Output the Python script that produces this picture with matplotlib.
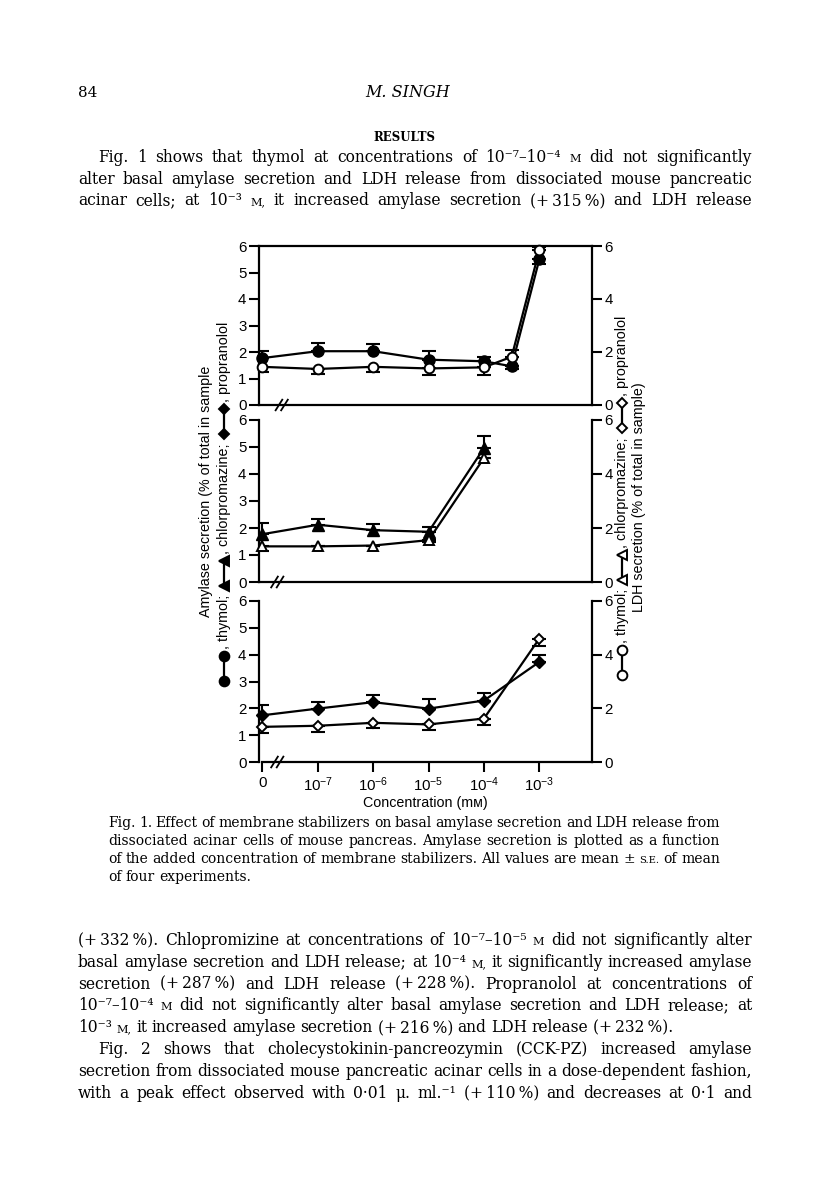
import matplotlib
matplotlib.use("Agg")
import matplotlib.pyplot as plt
from matplotlib.lines import Line2D

W, H = 816, 1185

# ==============================
# Data
# ==============================
conc_pos = [0, 1, 2, 3, 4, 5]
conc_labels = ["0", r"$10^{-7}$", r"$10^{-6}$", r"$10^{-5}$", r"$10^{-4}$", r"$10^{-3}$"]

# thymol (top panel) - one extra point between 10^-4 and 10^-3
thy_x = [0, 1, 2, 3, 4, 4.5, 5]
thy_amy = [1.77, 2.03, 2.03, 1.71, 1.65, 1.46, 5.50]
thy_amy_lo = [0, 0, 0, 0, 0, 0.12, 0.17]
thy_amy_hi = [0.26, 0.30, 0.28, 0.32, 0.18, 0, 0]
thy_ldh = [1.44, 1.36, 1.44, 1.38, 1.42, 1.82, 5.85]
thy_ldh_lo = [0.18, 0.18, 0.20, 0.26, 0.28, 0, 0]
thy_ldh_hi = [0, 0, 0, 0, 0, 0.25, 0.10]

# chlorpromazine (middle panel)
chl_x = [0, 1, 2, 3, 4]
chl_amy = [1.77, 2.12, 1.92, 1.86, 4.96]
chl_amy_lo = [0, 0, 0, 0, 0]
chl_amy_hi = [0.41, 0.23, 0.22, 0.16, 0.46]
chl_ldh = [1.32, 1.32, 1.35, 1.55, 4.59]
chl_ldh_lo = [0.18, 0, 0, 0.08, 0]
chl_ldh_hi = [0, 0, 0, 0, 0]

# propranolol (bottom panel)
pro_x = [0, 1, 2, 3, 4, 5]
pro_amy = [1.74, 1.99, 2.23, 1.99, 2.29, 3.73]
pro_amy_lo = [0, 0, 0, 0, 0, 0]
pro_amy_hi = [0.39, 0.26, 0.25, 0.36, 0.30, 0.24]
pro_ldh = [1.31, 1.35, 1.46, 1.40, 1.62, 4.60]
pro_ldh_lo = [0.24, 0.25, 0.21, 0.19, 0.25, 0.29]
pro_ldh_hi = [0, 0, 0, 0, 0, 0]

left_ticks = [0, 1, 2, 3, 4, 5, 6]
right_ticks = [0, 2, 4, 6]

# page text
para1 = [
    ("Fig. 1 shows that thymol at concentrations of 10⁻⁷–10⁻⁴ M did not significantly", 98, True),
    ("alter basal amylase secretion and LDH release from dissociated mouse pancreatic", 78, True),
    ("acinar cells; at 10⁻³ M, it increased amylase secretion (+\u2009315\u2009%) and LDH release", 78, True),
]
caption = [
    ("Fig. 1. Effect of membrane stabilizers on basal amylase secretion and LDH release from", 108, True),
    ("dissociated acinar cells of mouse pancreas. Amylase secretion is plotted as a function", 108, True),
    ("of the added concentration of membrane stabilizers. All values are mean ± S.E. of mean", 108, True),
    ("of four experiments.", 108, False),
]
para2 = [
    ("(+\u2009332\u2009%). Chlopromizine at concentrations of 10⁻⁷–10⁻⁵ M did not significantly alter", 78, True),
    ("basal amylase secretion and LDH release; at 10⁻⁴ M, it significantly increased amylase", 78, True),
    ("secretion (+\u2009287\u2009%) and LDH release (+\u2009228\u2009%). Propranolol at concentrations of", 78, True),
    ("10⁻⁷–10⁻⁴ M did not significantly alter basal amylase secretion and LDH release; at", 78, True),
    ("10⁻³ M, it increased amylase secretion (+\u2009216\u2009%) and LDH release (+\u2009232\u2009%).", 78, False),
    ("Fig. 2 shows that cholecystokinin-pancreozymin (CCK-PZ) increased amylase", 98, True),
    ("secretion from dissociated mouse pancreatic acinar cells in a dose-dependent fashion,", 78, True),
    ("with a peak effect observed with 0·01 μ. ml.⁻¹ (+\u2009110\u2009%) and decreases at 0·1 and", 78, True),
]

# ==============================
# Figure
# ==============================
plt.rcParams["mathtext.fontset"] = "custom"
plt.rcParams["mathtext.rm"] = "Liberation Sans"
plt.rcParams["mathtext.default"] = "regular"

SERIF = "DejaVu Serif"
SANS = ["Liberation Sans", "DejaVu Sans"]

fig = plt.figure(figsize=(W / 100, H / 100), dpi=100)
renderer = fig.canvas.get_renderer()


def fx(x):
    return x / W


def fy(y):
    return 1 - y / H


def word_size(w, size):
    if w.strip(",.;()") in ("M", "S.E"):
        return size * 0.72
    return size


def measure(w, size):
    t = fig.text(0, 0, w, fontsize=size, family=SERIF)
    wd = t.get_window_extent(renderer).width
    t.remove()
    return wd


def fit_size(lines, x1, s0=10.0, space_em=0.24):
    # largest font size where every justified line keeps some word spacing
    sizes = []
    for s, x0, j in lines:
        if not j:
            continue
        words = s.split(" ")
        tot = sum(measure(w, word_size(w, s0)) for w in words)
        n = len(words) - 1
        sizes.append((x1 - x0) / (tot / s0 + n * space_em * 1.389))
    return min(sizes)


def text_line(y, line, x0, x1, size, justify=True):
    words = line.split(" ")
    arts = [fig.text(0, fy(y), w, fontsize=word_size(w, size), family=SERIF, va="baseline")
            for w in words]
    widths = [a.get_window_extent(renderer).width for a in arts]
    if justify and len(words) > 1:
        gap = (x1 - x0 - sum(widths)) / (len(words) - 1)
    else:
        gap = size * 1.389 * 0.3
    x = x0
    for a, w in zip(arts, widths):
        a.set_x(fx(x))
        x += w + gap


# header
fig.text(fx(78), fy(97), "84", fontsize=11, family=SERIF, va="baseline")
fig.text(fx(408), fy(97), "M. SINGH", fontsize=11.5, family=SERIF, style="italic",
         ha="center", va="baseline")
fig.text(fx(404), fy(141), "RESULTS", fontsize=8.5, family=SERIF, weight="bold",
         ha="center", va="baseline")

body_size = fit_size(para1 + para2, 752)
cap_size = fit_size(caption, 720)
for i, (s, x0, j) in enumerate(para1):
    text_line(162 + i * 21.5, s, x0, 752, body_size, j)
for i, (s, x0, j) in enumerate(caption):
    text_line(827 + i * 18, s, x0, 720, cap_size, j)
for i, (s, x0, j) in enumerate(para2):
    text_line(945 + i * 21.8, s, x0, 752, body_size, j)

# ==============================
# Panels
# ==============================
L, R = 259, 592
XLIM = (-0.06, 5.95)
panels = [
    (246, 405, thy_x, thy_amy, thy_amy_lo, thy_amy_hi, thy_ldh, thy_ldh_lo, thy_ldh_hi, "o", 8),
    (420, 582, chl_x, chl_amy, chl_amy_lo, chl_amy_hi, chl_ldh, chl_ldh_lo, chl_ldh_hi, "^", 8.5),
    (601, 762, pro_x, pro_amy, pro_amy_lo, pro_amy_hi, pro_ldh, pro_ldh_lo, pro_ldh_hi, "D", 6),
]

for k, (y6, y0, x, amy, alo, ahi, ldh, llo, lhi, mk, ms) in enumerate(panels):
    ax = fig.add_axes([fx(L), fy(y0), (R - L) / W, (y0 - y6) / H])
    ax.set_xlim(*XLIM)
    ax.set_ylim(0, 6)

    ax.errorbar(x, amy, yerr=[alo, ahi], fmt="none", ecolor="black", elinewidth=1.5,
                capsize=5, capthick=1.5, zorder=1)
    ax.errorbar(x, ldh, yerr=[llo, lhi], fmt="none", ecolor="black", elinewidth=1.5,
                capsize=5, capthick=1.5, zorder=1)
    ax.plot(x, amy, "-", color="black", lw=1.6, marker=mk, ms=ms, mfc="black",
            mec="black", zorder=3, clip_on=False)
    ax.plot(x, ldh, "-", color="black", lw=1.6, marker=mk, ms=ms - 1, mfc="white",
            mec="black", mew=1.4, zorder=4, clip_on=False)

    for sp in ax.spines.values():
        sp.set_linewidth(1.6)
    ax.spines["right"].set_visible(False)
    ax.spines["top"].set_visible(k == 0)
    if k == 2:
        ax.spines["bottom"].set_bounds(0, XLIM[1])
        ax.set_xticks(conc_pos)
        ax.set_xticklabels(conc_labels)
        ax.tick_params(axis="x", direction="out", length=7, width=1.5, labelsize=10.8, pad=3)
        for t in ax.get_xticklabels():
            t.set_family(SANS)
        ax.set_xlabel("Concentration (mм)", fontsize=10.3, family=SANS, labelpad=1)
    else:
        ax.set_xticks([])

    ax.set_yticks(left_ticks)
    ax.tick_params(axis="y", direction="out", length=7, width=1.5, labelsize=10.8, pad=2)
    for t in ax.get_yticklabels():
        t.set_family(SANS)

    # axis break marks on the baseline
    bx = 0.3 if k == 0 else 0.22
    for d in (0, 0.1):
        ax.plot([bx - 0.06 + d, bx + 0.06 + d], [-0.2, 0.2], color="black", lw=1.3,
                clip_on=False, zorder=5)

    ax2 = ax.twinx()
    ax2.set_ylim(0, 6)
    ax2.set_yticks(right_ticks)
    for name in ("left", "top", "bottom"):
        ax2.spines[name].set_visible(False)
    ax2.spines["right"].set_linewidth(1.6)
    ax2.tick_params(axis="y", direction="out", length=7, width=1.5, labelsize=10.8, pad=2)
    for t in ax2.get_yticklabels():
        t.set_family(SANS)


# ==============================
# Rotated axis labels with symbol keys
# ==============================
def stacked_label(x, ybottom, pieces, size, filled):
    cur = ybottom
    for p in pieces:
        if isinstance(p, tuple):
            mk, ms = p
            ln = Line2D([fx(x), fx(x)], [fy(cur - 5), fy(cur - 30)], transform=fig.transFigure,
                        color="black", lw=1.6, marker=mk, ms=ms,
                        mfc="black" if filled else "white", mec="black", mew=1.4)
            fig.add_artist(ln)
            cur -= 37
        else:
            t = fig.text(fx(x), fy(cur), p, rotation=90, ha="center", va="bottom",
                         fontsize=size, family=SANS)
            cur -= t.get_window_extent(renderer).height + 4


key_pieces = [("o", 7), ", thymol;", ("<", 7), ", chlorpromazine;", ("D", 5.5), ", propranolol"]
fig.text(fx(206), fy(617), "Amylase secretion (% of total in sample", rotation=90,
         ha="center", va="bottom", fontsize=10.3, family=SANS)
stacked_label(224, 686, key_pieces, 10.3, True)
stacked_label(622, 680, key_pieces, 10.3, False)
fig.text(fx(639), fy(497), "LDH secretion (% of total in sample)", rotation=90,
         ha="center", va="center", fontsize=10.3, family=SANS)

fig.savefig("out.png", dpi=100, facecolor="white")
